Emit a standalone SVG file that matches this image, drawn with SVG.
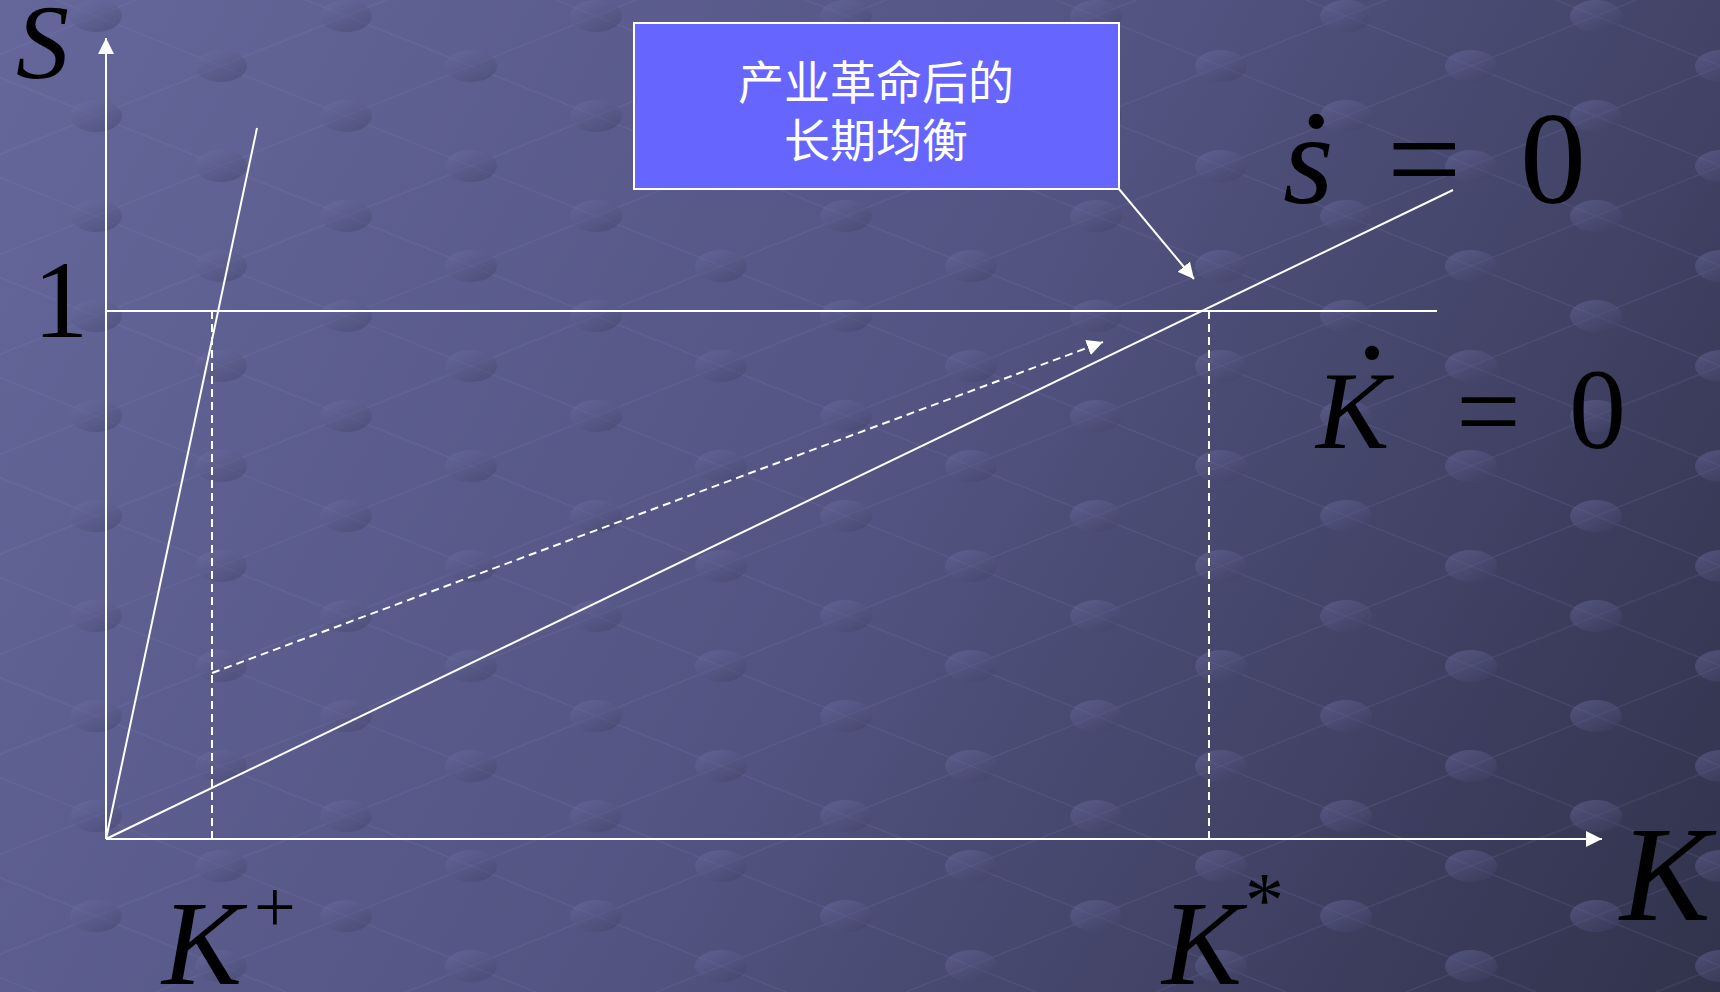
<svg xmlns="http://www.w3.org/2000/svg" width="1720" height="992" viewBox="0 0 1720 992">
  <defs>
    <linearGradient id="bg" x1="0" y1="0" x2="1720" y2="992" gradientUnits="userSpaceOnUse">
      <stop offset="0" stop-color="#65679b"/>
      <stop offset="0.5" stop-color="#535482"/>
      <stop offset="1" stop-color="#31324b"/>
    </linearGradient>
    <linearGradient id="dotg" x1="0" y1="0" x2="0.8" y2="1">
      <stop offset="0" stop-color="#7476ae"/>
      <stop offset="1" stop-color="#3e3f62"/>
    </linearGradient>
    <pattern id="lattice" patternUnits="userSpaceOnUse" x="96" y="16" width="250" height="100">
      <line x1="0" y1="0" x2="250" y2="100" stroke="#9092c8" stroke-width="1.5" opacity="0.12"/>
      <line x1="0" y1="100" x2="250" y2="0" stroke="#9092c8" stroke-width="1.5" opacity="0.12"/>
      <ellipse cx="125" cy="50" rx="26" ry="16" fill="url(#dotg)" opacity="0.42"/>
      <ellipse cx="0" cy="0" rx="26" ry="16" fill="url(#dotg)" opacity="0.42"/>
      <ellipse cx="250" cy="0" rx="26" ry="16" fill="url(#dotg)" opacity="0.42"/>
      <ellipse cx="0" cy="100" rx="26" ry="16" fill="url(#dotg)" opacity="0.42"/>
      <ellipse cx="250" cy="100" rx="26" ry="16" fill="url(#dotg)" opacity="0.42"/>
    </pattern>
    <marker id="arrow" viewBox="0 0 16 16" refX="16" refY="8" markerWidth="16" markerHeight="16" markerUnits="userSpaceOnUse" orient="auto">
      <path d="M0,0 L16,8 L0,16 Z" fill="#ffffff"/>
    </marker>
    <style>
      .ln { stroke: #ffffff; stroke-width: 2; fill: none; }
      .dash { stroke: #ffffff; stroke-width: 2; fill: none; stroke-dasharray: 8 5; }
      .it { font-family: "Liberation Serif", "Times New Roman", serif; font-style: italic; fill: #000000; }
      .rm { font-family: "Liberation Serif", "Times New Roman", serif; fill: #000000; }
      .cn { font-family: "Noto Sans CJK SC", sans-serif; fill: #ffffff; font-size: 46px; text-anchor: middle; }
    </style>
  </defs>

  <rect x="0" y="0" width="1720" height="992" fill="url(#bg)"/>
  <rect x="0" y="0" width="1720" height="992" fill="url(#lattice)"/>

  <g id="connectors">
    <line id="y-axis" class="ln" x1="106" y1="839" x2="106" y2="38" marker-end="url(#arrow)"/>
    <line id="x-axis" class="ln" x1="106" y1="839" x2="1602" y2="839" marker-end="url(#arrow)"/>
    <line id="k-dot-zero" class="ln" x1="106" y1="311" x2="1437" y2="311"/>
    <line id="s-dot-zero" class="ln" x1="106" y1="839" x2="1453" y2="190"/>
    <line id="steep" class="ln" x1="106" y1="839" x2="257" y2="128"/>
    <line id="kplus-drop" class="dash" x1="212" y1="311" x2="212" y2="839"/>
    <line id="kstar-drop" class="dash" x1="1209" y1="311" x2="1209" y2="839"/>
    <line id="path" class="dash" x1="212" y1="673" x2="1103" y2="342" marker-end="url(#arrow)"/>
    <line id="callout-leader" class="ln" x1="1119" y1="189" x2="1194" y2="279" marker-end="url(#arrow)"/>
  </g>

  <g id="callout">
    <rect x="634" y="23" width="485" height="166" fill="#6666ff" stroke="#ffffff" stroke-width="2"/>
    <text class="cn" x="876" y="99">产业革命后的</text>
    <text class="cn" x="876" y="157">长期均衡</text>
  </g>

  <g id="label-s">
    <text class="it" x="16" y="78" font-size="106">S</text>
  </g>
  <g id="label-one">
    <text class="rm" x="33" y="337" font-size="111">1</text>
  </g>
  <g id="label-sdot">
    <text class="it" x="1283" y="203" font-size="130">s</text>
    <text class="rm" x="1300" y="127" font-size="130">.</text>
    <text class="rm" x="1387" y="203" font-size="132">=</text>
    <text class="rm" x="1520" y="203" font-size="132">0</text>
  </g>
  <g id="label-kdot">
    <text class="it" x="1316" y="448" font-size="110">K</text>
    <text class="rm" x="1357" y="358" font-size="120">.</text>
    <text class="rm" x="1456" y="450" font-size="115">=</text>
    <text class="rm" x="1569" y="448" font-size="114">0</text>
  </g>
  <g id="label-kplus">
    <text class="it" x="162" y="984" font-size="120">K</text>
    <text class="rm" x="254" y="932" font-size="74">+</text>
  </g>
  <g id="label-kstar">
    <text class="it" x="1162" y="984" font-size="120">K</text>
    <text class="rm" x="1245" y="926" font-size="78">*</text>
  </g>
  <g id="label-k">
    <text class="it" x="1620" y="920" font-size="136">K</text>
  </g>
</svg>
